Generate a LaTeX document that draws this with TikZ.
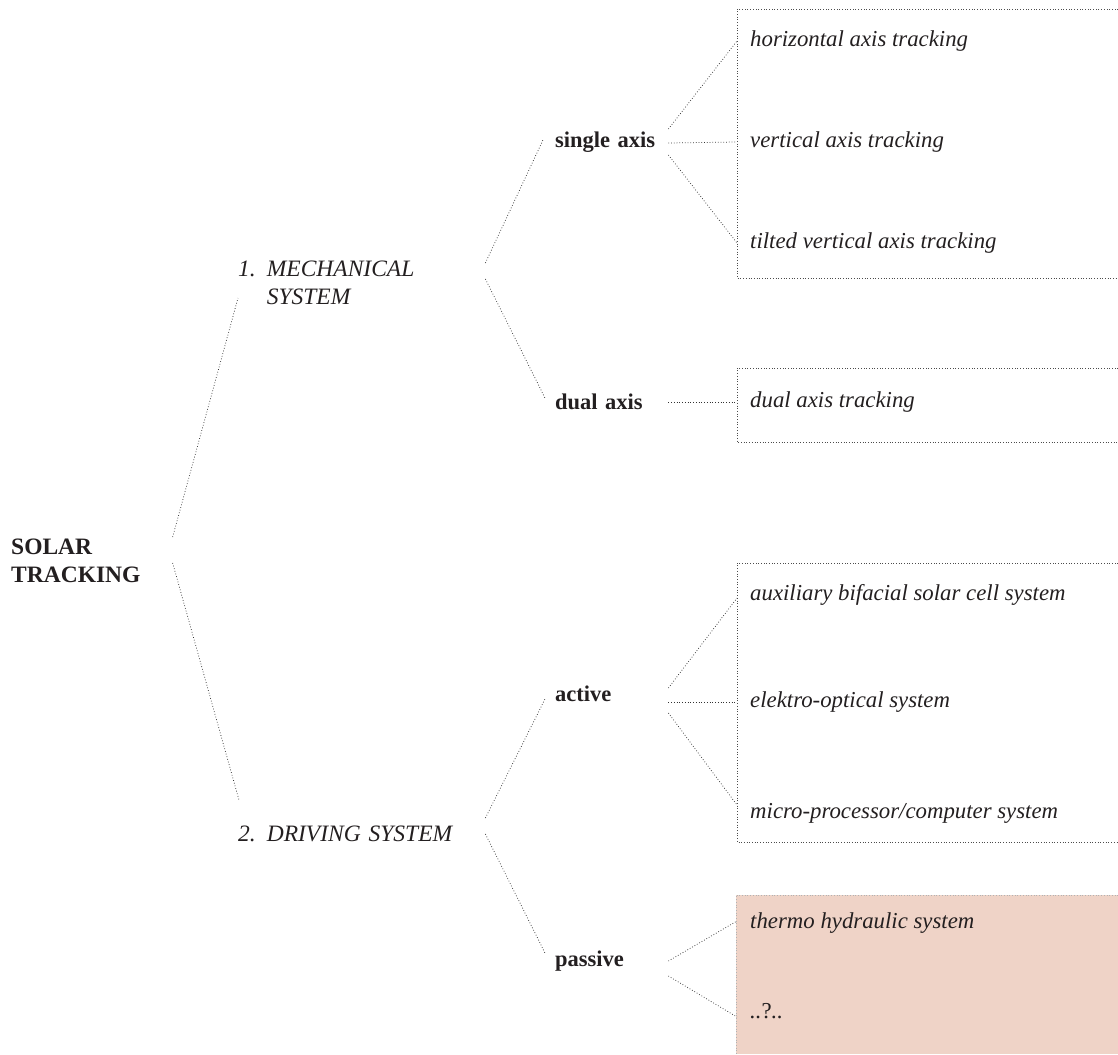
\documentclass[tikz,border=0pt]{standalone}
\usepackage{fontspec}
\setmainfont{Liberation Serif}
\definecolor{inkgray}{HTML}{231F20}
\definecolor{passivefill}{HTML}{EFD3C7}
\tikzset{
  rootlbl/.style={font=\fontsize{23.5}{28}\selectfont\bfseries, text=inkgray, inner sep=0pt, align=left, anchor=west},
  syslbl/.style={font=\fontsize{23.5}{28}\selectfont\itshape, text=inkgray, inner sep=0pt, anchor=west, text width=245pt},
  kindlbl/.style={font=\fontsize{22.5}{28}\selectfont\bfseries, text=inkgray, inner ysep=0pt, inner xsep=10pt, anchor=west, text width=103pt},
  leaf/.style={font=\fontsize{22.8}{28}\selectfont\itshape, text=inkgray, inner ysep=0pt, inner xsep=13pt, anchor=west},
  link/.style={dotted, black!80, line width=0.75pt},
  frame/.style={dotted, black!70, line width=0.7pt},
}
\newcommand{\sysnum}[3]{\begin{tabular}{@{}l@{\hspace{11pt}}l@{}}#1 & #2\\ & #3\end{tabular}}
\begin{document}
\begin{tikzpicture}[x=1pt, y=-1pt]
  \useasboundingbox (0,0) rectangle (1118,1054);
  % boxes round the leaves
  \fill[passivefill] (736,895) rectangle (1118,1054);
  \draw[dotted, black!30, line width=0.7pt] (1118,895) -- (736,895) -- (736,1054);
  \foreach \ya/\yb in {9/278, 368/442, 563/842}
    \draw[frame] (1118,\ya) -| (737,\yb) -- (1118,\yb);

  \node[rootlbl] (root) at (11,561) {SOLAR\\TRACKING};

  \node[syslbl] (mech) at (238,285) {\sysnum{1.}{MECHANICAL}{SYSTEM}};
  \node[syslbl] (drv) at (238,836) {\begin{tabular}{@{}l@{\hspace{11pt}}l@{}}2. & DRIVING SYSTEM\end{tabular}};

  \node[kindlbl] (single) at (545,142) {single axis};
  \node[kindlbl] (dual) at (545,402) {dual axis};
  \node[kindlbl] (active) at (545,694) {active};
  \node[kindlbl] (passive) at (545,961) {passive};

  \foreach \nm/\yy/\txt in {hz/41/horizontal axis tracking, vt/142/vertical axis tracking,
      tv/243/tilted vertical axis tracking, dl/402/dual axis tracking,
      ax/595/auxiliary bifacial solar cell system, eo/702/elektro-optical system,
      mp/813/{micro-processor/computer system}, th/923/thermo hydraulic system, qq/1011/..{\upshape ?}..}
    \node[leaf] (\nm) at (737,\yy) {\txt};

  % level 1
  \draw[link] ([shift={(32,-24)}]root.east) -- ([shift={(0,13)}]mech.west);
  \draw[link] ([shift={(32,2)}]root.east) -- ([shift={(1,-36)}]drv.west);
  % level 2
  \draw[link] ([shift={(2,-22)}]mech.east) -- ([shift={(-2,-2)}]single.west);
  \draw[link] ([shift={(2,-6)}]mech.east) -- ([shift={(0,-4)}]dual.west);
  \draw[link] ([shift={(2,-18)}]drv.east) -- ([shift={(0,5)}]active.west);
  \draw[link] ([shift={(2,-2)}]drv.east) -- ([shift={(0,-8)}]passive.west);
  % level 3
  \draw[link] ([shift={(0,-13)}]single.east) -- (hz.west);
  \draw[link] ([shift={(0,1)}]single.east) -- (vt.west);
  \draw[link] ([shift={(0,13)}]single.east) -- (tv.west);
  \draw[link] (dual.east) -- (dl.west);
  \draw[link] ([shift={(0,-6)}]active.east) -- ([shift={(0,3)}]ax.west);
  \draw[link] ([shift={(0,8)}]active.east) -- (eo.west);
  \draw[link] ([shift={(0,19)}]active.east) -- ([shift={(0,-8)}]mp.west);
  \draw[link] (passive.east) -- ([shift={(0,-2)}]th.west);
  \draw[link] ([shift={(0,15)}]passive.east) -- ([shift={(0,6)}]qq.west);
\end{tikzpicture}
\end{document}
